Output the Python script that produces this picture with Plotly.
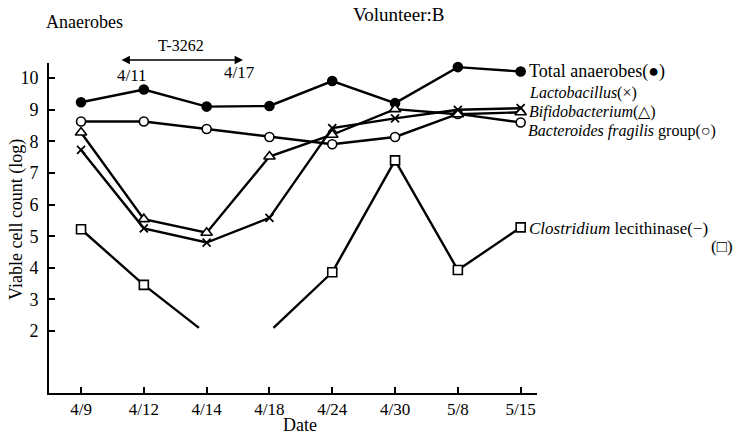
import plotly.graph_objects as go

# ---------------- data ----------------
dates = ["4/9", "4/12", "4/14", "4/18", "4/24", "4/30", "5/8", "5/15"]
total_anaerobes = [9.24, 9.64, 9.10, 9.12, 9.91, 9.21, 10.35, 10.21]
lactobacillus = [7.73, 5.25, 4.80, 5.58, 8.42, 8.73, 9.00, 9.05]
bifidobacterium = [8.28, 5.54, 5.11, 7.52, 8.21, 9.02, 8.86, 8.92]
bacteroides = [8.63, 8.63, 8.39, 8.14, 7.91, 8.14, 8.87, 8.60]
# 4/14 and 4/18 fall below the detection limit (no marker drawn)
clostridium = [5.22, 3.46, 1.91, 1.98, 3.86, 7.40, 3.93, 5.28]
detection_limit = 2.1
y_ticks = [2, 3, 4, 5, 6, 7, 8, 9, 10]

# ---------------- layout geometry ----------------
W, H = 743, 439
L, R, T, B = 49, 537, 63, 393
FONT = "Liberation Serif"


def px(xp):
    return (xp - L) / (R - L)


def py(yp):
    return (B - yp) / (B - T)


xs = list(range(len(dates)))
fig = go.Figure()

line_style = dict(color="black", width=2.4)


def add_series(vals, symbol, size, filled):
    fig.add_trace(go.Scatter(
        x=xs, y=vals, mode="lines+markers",
        line=line_style,
        marker=dict(symbol=symbol, size=size,
                    color="black" if filled else "white",
                    line=dict(color="black", width=1.6)),
        showlegend=False, cliponaxis=False))


add_series(total_anaerobes, "circle", 9, True)
add_series(bacteroides, "circle", 9, False)
add_series(bifidobacterium, "triangle-up", 10, False)
fig.add_trace(go.Scatter(
    x=xs, y=lactobacillus, mode="lines+markers", line=line_style,
    marker=dict(symbol="x-thin", size=8, line=dict(color="black", width=1.8)),
    showlegend=False, cliponaxis=False))

# Clostridium: segments clipped at detection limit
seg_x, seg_y = [], []
for i in range(len(xs) - 1):
    v0, v1 = clostridium[i], clostridium[i + 1]
    a0, a1 = v0 >= detection_limit, v1 >= detection_limit
    if not a0 and not a1:
        continue
    x0, x1 = xs[i], xs[i + 1]
    if a0 and a1:
        seg_x += [x0, x1, None]
        seg_y += [v0, v1, None]
    else:
        t = (detection_limit - v0) / (v1 - v0)
        xc = x0 + t * (x1 - x0)
        if a0:
            seg_x += [x0, xc, None]
            seg_y += [v0, detection_limit, None]
        else:
            seg_x += [xc, x1, None]
            seg_y += [detection_limit, v1, None]
fig.add_trace(go.Scatter(x=seg_x, y=seg_y, mode="lines", line=line_style,
                         showlegend=False, cliponaxis=False))
mx = [x for x, v in zip(xs, clostridium) if v >= detection_limit]
my = [v for v in clostridium if v >= detection_limit]
fig.add_trace(go.Scatter(
    x=mx, y=my, mode="markers",
    marker=dict(symbol="square", size=9, color="white",
                line=dict(color="black", width=1.6)),
    showlegend=False, cliponaxis=False))

ann = []


def text(s, x, y, size=17, xanchor="center", yanchor="middle"):
    ann.append(dict(text=s, x=px(x), y=py(y), xref="paper", yref="paper",
                    showarrow=False, xanchor=xanchor, yanchor=yanchor,
                    borderpad=0,
                    font=dict(family=FONT, size=size, color="black")))


text("Anaerobes", 45, 22, size=18, xanchor="left")
text("Volunteer:B", 352, 15, size=19, xanchor="left")
text("T-3262", 181, 45, size=16)
text("4/11", 132, 75, size=17)
text("4/17", 239, 73, size=17)
text("Date", 300, 425, size=18)
text("Total anaerobes(●)", 528, 72, size=18, xanchor="left")
text("<i>Lactobacillus</i>(×)", 528, 93, size=16, xanchor="left")
text("<i>Bifidobacterium</i>(△)", 528, 112, size=16, xanchor="left")
text("<i>Bacteroides fragilis</i> group(○)", 527, 131, size=16,
     xanchor="left")
text("<i>Clostridium</i> lecithinase(−)", 528, 228, size=17, xanchor="left")
text("(□)", 734, 246, size=17, xanchor="right")
ann.append(dict(text="Viable cell count (log)", x=px(17), y=py(220),
                xref="paper", yref="paper", showarrow=False, textangle=-90,
                xanchor="center", yanchor="middle",
                font=dict(family=FONT, size=18, color="black")))
# treatment period arrow
ann.append(dict(text="", x=px(243), y=py(60), xref="paper", yref="paper",
                ax=-123, ay=0, axref="pixel", ayref="pixel", showarrow=True,
                arrowhead=2, startarrowhead=2, arrowside="end+start",
                arrowsize=1.2, arrowwidth=1.4, arrowcolor="black"))

fig.update_layout(
    width=W, height=H, autosize=False,
    margin=dict(l=L, r=W - R, t=T, b=H - B, pad=0),
    paper_bgcolor="white", plot_bgcolor="white",
    font=dict(family=FONT, size=17, color="black"),
    annotations=ann,
    xaxis=dict(range=[-0.51, 7.26], tickvals=xs, ticktext=dates,
               showgrid=False, zeroline=False, showline=True,
               linecolor="black", linewidth=1.6, ticks="inside",
               ticklen=6, tickwidth=1.5, tickcolor="black",
               tickfont=dict(family=FONT, size=17)),
    yaxis=dict(range=[0.04, 10.48], tickvals=y_ticks,
               showgrid=False, zeroline=False, showline=True,
               linecolor="black", linewidth=1.6, ticks="inside",
               ticklen=6, tickwidth=1.5, tickcolor="black",
               ticklabelstandoff=5,
               tickfont=dict(family=FONT, size=18)),
)

fig.write_html("out.html")
